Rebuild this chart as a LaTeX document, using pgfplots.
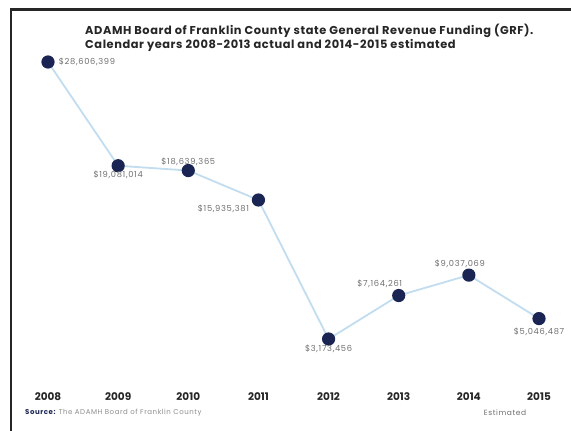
\documentclass[border=0pt]{standalone}
\usepackage{pgfplots}
\pgfplotsset{compat=1.18}
\usepackage{pgfplotstable}
\usepackage{fontspec}
\setmainfont{Poppins}
\newfontfamily\wide[LetterSpace=8]{Poppins}
\newfontfamily\widetitle[LetterSpace=5]{Poppins}
\definecolor{navy}{HTML}{1B2553}
\definecolor{lblue}{HTML}{C2DDEF}
\definecolor{lgray}{HTML}{707070}
\definecolor{titlec}{HTML}{262626}
\pgfplotstableread{
year value lab dx dy
2008 28606399 28,606,399 39 0
2009 19081014 19,081,014 0 -9
2010 18639365 18,639,365 0 9
2011 15935381 15,935,381 -35 -9
2012 3173456 3,173,456 0 -10
2013 7164261 7,164,261 -19 12
2014 9037069 9,037,069 -9 11
2015 5046487 5,046,487 0 -13
}\grf
\begin{document}
\begin{tikzpicture}[x=1pt,y=1pt]
\fill[white] (0,0) rectangle (571,431);
\begin{axis}[
  at={(0,0)}, anchor=south west,
  scale only axis, width=571pt, height=431pt,
  xmin=2007.3157, xmax=2015.456,
  ymin=-5275000, ymax=34299000,
  axis line style={draw=none},
  major tick length=0pt,
  ytick=\empty,
  xtick={2008,2009,2010,2011,2012,2013,2014,2015},
  xticklabels={2008,2009,2010,2011,2012,2013,2014,2015},
  xticklabel style={font=\bfseries\fontsize{10.5}{12}\selectfont, text=titlec, anchor=center, yshift=34pt},
  clip=false,
  point meta=explicit symbolic,
  visualization depends on={\thisrow{dx}\as\dx},
  visualization depends on={\thisrow{dy}\as\dy},
  nodes near coords={\$\pgfplotspointmeta},
  every node near coord/.append style={anchor=center, inner sep=0pt, xshift=\dx pt, yshift=\dy pt, font=\wide\fontsize{8.3}{9}\selectfont, text=lgray},
]
\addplot[color=lblue, line width=1.8pt, mark=*, mark size=5.7pt, mark options={fill=navy, draw=navy}]
  table[x=year, y=value, meta=lab] {\grf};
\end{axis}
% frame
\draw[line width=2.5pt, color=black!85] (11,0) -- (11,421.5) -- (571,421.5);
% title
\node[anchor=west, inner sep=0pt, text=titlec, font=\widetitle\bfseries\fontsize{11.4}{14.5}\selectfont, align=left] at (85,393)
  {ADAMH Board of Franklin County state General Revenue Funding (GRF).\\Calendar years 2008-2013 actual and 2014-2015 estimated};
% source
\node[anchor=west, inner sep=0pt, font=\wide\fontsize{7}{8}\selectfont] at (25,18)
  {\textcolor{navy}{\bfseries Source:} \textcolor{lgray!80}{The ADAMH Board of Franklin County}};
\node[anchor=center, inner sep=0pt, font=\wide\fontsize{7.5}{9}\selectfont, text=lgray] at (505,18) {Estimated};
\pgfresetboundingbox
\path (0,0) rectangle (571,431);
\end{tikzpicture}
\end{document}
